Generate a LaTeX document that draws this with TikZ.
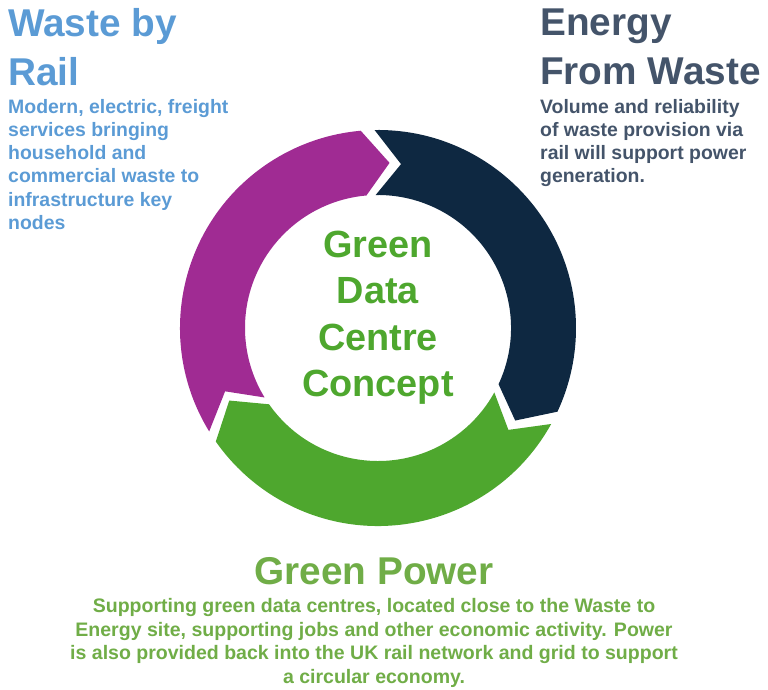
\documentclass[tikz,border=0pt]{standalone}
\usepackage{fontspec}
\setmainfont{Liberation Sans}
\definecolor{ringpurple}{HTML}{A02B93}
\definecolor{ringnavy}{HTML}{0E2841}
\definecolor{ringgreen}{HTML}{4EA72E}
\definecolor{textblue}{HTML}{5B9BD5}
\definecolor{textgray}{HTML}{44546A}
\definecolor{textgreen}{HTML}{70AD47}
\definecolor{centergreen}{HTML}{4EA72E}
\newcommand\ringarrow[3]{% colour, tail angle, head angle
  \fill[#1] (#2:198bp) arc[start angle=#2, end angle=#3, radius=198bp]
    -- ({#3-9}:165.5bp) -- (#3:133bp)
    arc[start angle=#3, end angle=#2, radius=133bp]
    -- ({#2-9}:165.5bp) -- cycle;}
\begin{document}
\begin{tikzpicture}[x=1bp,y=1bp,
  titletext/.style={font=\bfseries\fontsize{38.9}{49}\selectfont, inner sep=0pt, align=left},
  bodytext/.style={font=\bfseries\fontsize{19.5}{23.3}\selectfont, inner sep=0pt, align=left},
  centertext/.style={font=\bfseries\fontsize{38}{46.5}\selectfont, inner sep=0pt, align=center, text=centergreen}]
\useasboundingbox (0,0) rectangle (768,690);
\begin{scope}[shift={(378,362)}]
  \ringarrow{ringpurple}{211.5}{95}
  \ringarrow{ringnavy}{91}{-25}
  \ringarrow{ringgreen}{-29}{-145}
\end{scope}
\node[centertext, anchor=north] (centre) at (378,459) {Green\\Data\\Centre\\Concept};
\node[titletext, text=textblue, anchor=north west] (wbrtitle) at (8,682) {Waste by\\Rail};
\node[bodytext, text=textblue, anchor=north west] (wbrbody) at (8,591) {Modern, electric, freight\\services bringing\\household and\\commercial waste to\\infrastructure key\\nodes};
\node[titletext, text=textgray, anchor=north west] (efwtitle) at (540,681) {Energy\\From Waste};
\node[bodytext, text=textgray, anchor=north west] (efwbody) at (540,591) {Volume and reliability\\of waste provision via\\rail will support power\\generation.};
\node[titletext, text=textgreen, anchor=north, align=center] (gptitle) at (374,133) {Green Power};
\node[bodytext, text=textgreen, anchor=north, align=center, font=\bfseries\fontsize{19.6}{23.8}\selectfont] (gpbody) at (374,92) {Supporting green data centres, located close to the Waste to\\Energy site, supporting jobs and other economic activity. Power\\is also provided back into the UK rail network and grid to support\\a circular economy.};
\end{tikzpicture}
\end{document}
